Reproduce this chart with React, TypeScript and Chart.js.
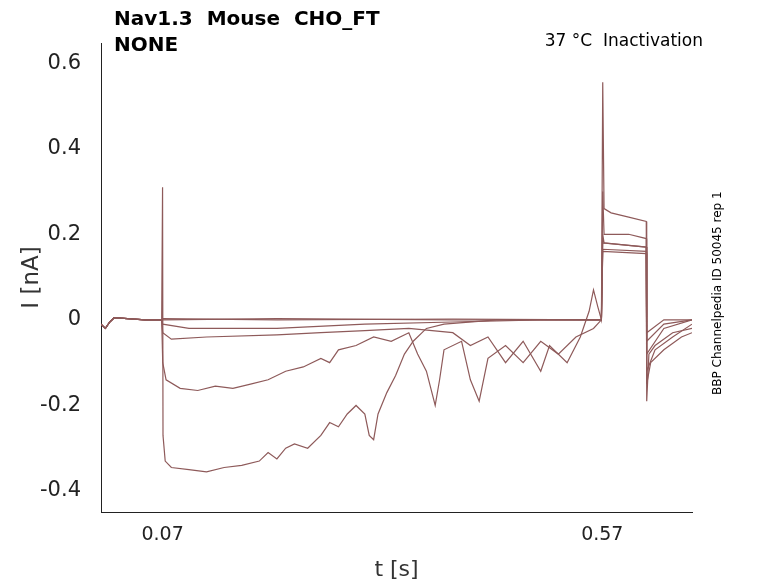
import React, { useEffect, useRef } from "react";
import { Chart, registerables } from "chart.js";
Chart.register(...registerables);

const pre: number[][] = [[0,-0.01],[0.005,-0.02],[0.01,-0.005],[0.015,0.005],[0.03,0.003],[0.05,0],[0.069,0]];
const traceA: number[][] = [...pre,[0.07,0.31],[0.0705,-0.27],[0.073,-0.33],[0.08,-0.345],[0.1,-0.35],[0.12,-0.355],[0.14,-0.345],[0.16,-0.34],[0.18,-0.33],[0.19,-0.31],[0.2,-0.325],[0.21,-0.3],[0.22,-0.29],[0.235,-0.3],[0.25,-0.27],[0.26,-0.24],[0.27,-0.25],[0.28,-0.22],[0.29,-0.2],[0.3,-0.22],[0.305,-0.27],[0.31,-0.28],[0.315,-0.22],[0.325,-0.17],[0.335,-0.13],[0.345,-0.08],[0.355,-0.05],[0.37,-0.02],[0.39,-0.01],[0.45,0],[0.5,0],[0.569,0],[0.5705,0.555],[0.572,0.26],[0.58,0.25],[0.6,0.24],[0.62,0.23],[0.6205,-0.19],[0.623,-0.08],[0.63,-0.06],[0.65,-0.03],[0.672,-0.02]];
const traceB: number[][] = [...pre,[0.0702,-0.1],[0.074,-0.14],[0.09,-0.16],[0.11,-0.165],[0.13,-0.155],[0.15,-0.16],[0.17,-0.15],[0.19,-0.14],[0.21,-0.12],[0.23,-0.11],[0.25,-0.09],[0.26,-0.1],[0.27,-0.07],[0.29,-0.06],[0.31,-0.04],[0.33,-0.05],[0.35,-0.03],[0.36,-0.08],[0.37,-0.12],[0.38,-0.2],[0.385,-0.14],[0.39,-0.07],[0.41,-0.05],[0.42,-0.14],[0.43,-0.19],[0.44,-0.09],[0.46,-0.06],[0.48,-0.1],[0.5,-0.05],[0.52,-0.08],[0.54,-0.04],[0.56,-0.02],[0.569,0],[0.5705,0.3],[0.572,0.2],[0.6,0.2],[0.62,0.19],[0.6205,-0.15],[0.625,-0.1],[0.64,-0.07],[0.66,-0.04],[0.672,-0.03]];
const traceC: number[][] = [...pre,[0.0702,-0.03],[0.08,-0.045],[0.12,-0.04],[0.2,-0.035],[0.25,-0.03],[0.3,-0.025],[0.35,-0.02],[0.4,-0.03],[0.42,-0.06],[0.44,-0.04],[0.46,-0.1],[0.48,-0.05],[0.5,-0.12],[0.51,-0.06],[0.53,-0.1],[0.545,-0.04],[0.555,0.02],[0.56,0.07],[0.565,0.03],[0.569,0],[0.5705,0.2],[0.572,0.18],[0.62,0.17],[0.6205,-0.12],[0.63,-0.07],[0.65,-0.04],[0.672,-0.01]];
const traceD: number[][] = [...pre,[0.0702,-0.01],[0.1,-0.02],[0.2,-0.02],[0.3,-0.01],[0.4,-0.005],[0.5,0],[0.569,0],[0.5705,0.18],[0.62,0.17],[0.6205,-0.08],[0.64,-0.02],[0.672,0]];
const traceE: number[][] = [...pre,[0.0702,0],[0.2,0.003],[0.4,0],[0.569,0],[0.5705,0.165],[0.62,0.16],[0.6205,-0.05],[0.64,-0.01],[0.672,0]];
const traceF: number[][] = [...pre,[0.0702,0.003],[0.2,0],[0.4,0.002],[0.569,0],[0.5705,0.16],[0.62,0.155],[0.6205,-0.03],[0.64,0],[0.672,0]];
const traces = [traceA, traceB, traceC, traceD, traceE, traceF];
const xTicks = [0.07, 0.57];
const yTicks = [-0.4, -0.2, 0, 0.2, 0.4, 0.6];
const color = "#8e5a5a";

export default function App() {
  const ref = useRef<HTMLCanvasElement>(null);
  useEffect(() => {
    const chart = new Chart(ref.current!, {
      type: "line",
      data: {
        datasets: traces.map((t) => ({
          data: t.map(([x, y]) => ({ x, y })),
          borderColor: color, borderWidth: 1.2, pointRadius: 0, tension: 0,
        })),
      },
      options: {
        animation: false, responsive: false,
        layout: { padding: { top: 43, right: 86, left: 0, bottom: 0 } },
        plugins: { legend: { display: false }, tooltip: { enabled: false } },
        scales: {
          x: {
            type: "linear", min: 0, max: 0.672,
            afterBuildTicks: (s: any) => { s.ticks = xTicks.map((v) => ({ value: v })); },
            afterFit: (s: any) => { s.height = 71; },
            grid: { display: false, tickLength: 6 },
            border: { color: "#222" },
            ticks: { color: "#222", padding: 6, font: { size: 19, family: "DejaVu Sans" }, callback: (v: any) => String(v) },
            title: { display: true, text: "t [s]", color: "#333", font: { size: 22, family: "DejaVu Sans" }, padding: 0 },
          },
          y: {
            min: -0.449, max: 0.647,
            afterBuildTicks: (s: any) => { s.ticks = yTicks.map((v) => ({ value: v })); },
            afterFit: (s: any) => { s.width = 101; },
            grid: { display: false, tickLength: 6 },
            border: { color: "#222" },
            ticks: { color: "#222", padding: 14, font: { size: 21, family: "DejaVu Sans" }, callback: (v: any) => (v === 0 ? "0" : String(v)) },
            title: { display: true, text: "I [nA]", color: "#333", font: { size: 23, family: "DejaVu Sans" }, padding: { top: 18, bottom: 0 } },
          },
        },
      },
    });
    return () => chart.destroy();
  }, []);
  return (
    <div style={{ position: "fixed", left: 0, top: 0, width: 778, height: 583, background: "#fff", fontFamily: "DejaVu Sans" }}>
      <canvas ref={ref} width={778} height={583} />
      <div style={{ position: "absolute", left: 114, top: 5, fontSize: 20, fontWeight: "bold", lineHeight: "26px", whiteSpace: "pre" }}>{"Nav1.3  Mouse  CHO_FT\nNONE"}</div>
      <div style={{ position: "absolute", right: 75, top: 30, fontSize: 17, whiteSpace: "pre" }}>{"37 °C  Inactivation"}</div>
      <div style={{ position: "absolute", left: 710, top: 395, fontSize: 12, whiteSpace: "pre", transform: "rotate(-90deg)", transformOrigin: "0 0" }}>BBP Channelpedia ID 50045 rep 1</div>
    </div>
  );
}
